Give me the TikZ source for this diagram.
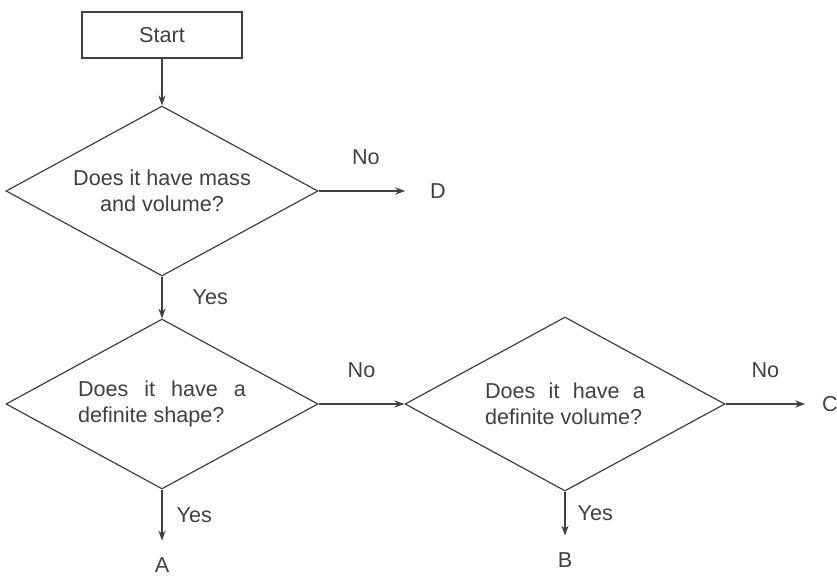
\documentclass[tikz,border=0pt]{standalone}
\usepackage{fontspec}
\setmainfont{Liberation Sans}
\usetikzlibrary{arrows.meta,shapes.geometric}
\hyphenpenalty=10000

\begin{document}
\begin{tikzpicture}[x=0.5pt, y=-0.5pt, line width=0.6pt,
  every node/.style={text=black!75, font=\fontsize{10.8}{13}\selectfont},
  box/.style={draw=black!75, minimum width=80pt, minimum height=23pt, inner sep=0pt},
  query/.style={diamond, draw=black!75, inner sep=0pt, aspect=1.84},
  leaf/.style={inner sep=0pt, outer sep=8.5pt},
  flow/.style={draw=black!75, -{Stealth[length=5pt, width=3.6pt]}},
  lbl/.style={inner sep=0pt}]
  \useasboundingbox (0,0) rectangle (837,575);
  % boxes and questions
  \node[box] (start) at (162,35) {Start};
  \node[query, minimum width=156pt, minimum height=85pt, align=center]
    (mass) at (162,191) {Does it have mass\\and volume?};
  \node[query, minimum width=156pt, minimum height=85pt, text width=84pt, align=justify]
    (shape) at (162,404) {Does it have a definite shape?};
  \node[query, minimum width=160pt, minimum height=87pt, text width=80pt, align=justify]
    (volume) at (565,404) {Does it have a definite volume?};
  % outcomes
  \node[leaf] (outD) at (438,191) {D};
  \node[leaf] (outA) at (162,565) {A};
  \node[leaf] (outB) at (565,560) {B};
  \node[leaf] (outC) at (830,404) {C};
  % connectors
  \draw[flow] (start) -- (mass);
  \draw[flow, shorten >=4pt] (mass) -- node[lbl, above=13pt] {No} (outD);
  \draw[flow] (mass) -- node[lbl, right=15pt] {Yes} (shape);
  \draw[flow] (shape) -- node[lbl, above=13pt] {No} (volume);
  \draw[flow] (volume) -- node[lbl, above=13pt] {No} (outC);
  \draw[flow] (shape) -- node[lbl, right=7pt] {Yes} (outA);
  \draw[flow] (volume) -- node[lbl, right=6pt] {Yes} (outB);
\end{tikzpicture}
\end{document}
